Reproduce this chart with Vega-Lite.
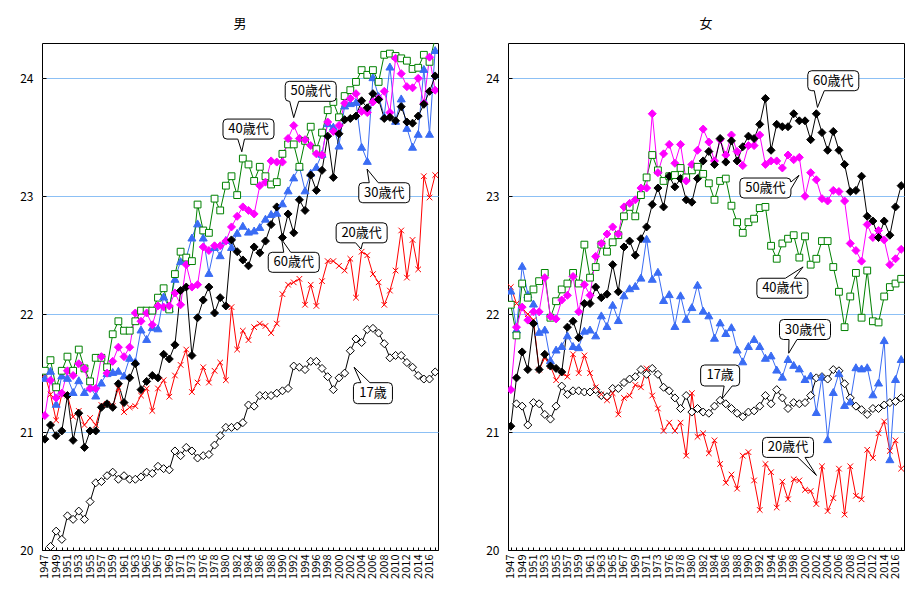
{
  "$schema": "https://vega.github.io/schema/vega-lite/v6.json",
  "padding": {"left": 5, "right": 5, "top": 17, "bottom": 5},
  "spacing": 30,
  "datasets": {
    "bmi": [
      {"sex":"男","year":1947,"a17":null,"a20":21.49,"a30":21.46,"a40":21.52,"a50":21.14,"a60":20.94},
      {"sex":"男","year":1948,"a17":20.03,"a20":21.32,"a30":21.52,"a40":21.61,"a50":21.44,"a60":21.06},
      {"sex":"男","year":1949,"a17":20.16,"a20":21.10,"a30":21.24,"a40":21.38,"a50":21.29,"a60":20.97},
      {"sex":"男","year":1950,"a17":20.09,"a20":21.32,"a30":21.48,"a40":21.52,"a50":21.33,"a60":21.01},
      {"sex":"男","year":1951,"a17":20.29,"a20":21.31,"a30":21.46,"a40":21.64,"a50":21.52,"a60":21.31},
      {"sex":"男","year":1952,"a17":20.26,"a20":21.13,"a30":21.34,"a40":21.52,"a50":21.48,"a60":20.93},
      {"sex":"男","year":1953,"a17":20.33,"a20":21.18,"a30":21.44,"a40":21.70,"a50":21.58,"a60":21.16},
      {"sex":"男","year":1954,"a17":20.26,"a20":21.06,"a30":21.34,"a40":21.54,"a50":21.54,"a60":20.87},
      {"sex":"男","year":1955,"a17":20.41,"a20":21.12,"a30":21.38,"a40":21.43,"a50":21.37,"a60":21.01},
      {"sex":"男","year":1956,"a17":20.57,"a20":21.06,"a30":21.31,"a40":21.63,"a50":21.37,"a60":21.01},
      {"sex":"男","year":1957,"a17":20.58,"a20":21.23,"a30":21.42,"a40":21.63,"a50":21.64,"a60":21.21},
      {"sex":"男","year":1958,"a17":20.63,"a20":21.24,"a30":21.50,"a40":21.55,"a50":21.50,"a60":21.24},
      {"sex":"男","year":1959,"a17":20.66,"a20":21.22,"a30":21.51,"a40":21.83,"a50":21.60,"a60":21.21},
      {"sex":"男","year":1960,"a17":20.60,"a20":21.37,"a30":21.52,"a40":21.94,"a50":21.72,"a60":21.41},
      {"sex":"男","year":1961,"a17":20.63,"a20":21.17,"a30":21.48,"a40":21.86,"a50":21.64,"a60":21.25},
      {"sex":"男","year":1962,"a17":20.60,"a20":21.21,"a30":21.63,"a40":21.86,"a50":21.72,"a60":21.46},
      {"sex":"男","year":1963,"a17":20.60,"a20":21.22,"a30":21.60,"a40":21.94,"a50":22.01,"a60":21.58},
      {"sex":"男","year":1964,"a17":20.62,"a20":21.31,"a30":21.87,"a40":22.03,"a50":21.94,"a60":21.36},
      {"sex":"男","year":1965,"a17":20.66,"a20":21.37,"a30":21.79,"a40":22.03,"a50":22.01,"a60":21.43},
      {"sex":"男","year":1966,"a17":20.65,"a20":21.18,"a30":21.89,"a40":22.03,"a50":21.91,"a60":21.48},
      {"sex":"男","year":1967,"a17":20.71,"a20":21.37,"a30":21.88,"a40":22.14,"a50":22.07,"a60":21.46},
      {"sex":"男","year":1968,"a17":20.69,"a20":21.44,"a30":22.15,"a40":22.22,"a50":22.06,"a60":21.66},
      {"sex":"男","year":1969,"a17":20.68,"a20":21.30,"a30":22.05,"a40":22.04,"a50":22.07,"a60":21.62},
      {"sex":"男","year":1970,"a17":20.84,"a20":21.48,"a30":22.30,"a40":22.34,"a50":22.18,"a60":21.74},
      {"sex":"男","year":1971,"a17":20.80,"a20":21.57,"a30":22.45,"a40":22.53,"a50":22.08,"a60":22.20},
      {"sex":"男","year":1972,"a17":20.87,"a20":21.70,"a30":22.48,"a40":22.48,"a50":22.42,"a60":22.23},
      {"sex":"男","year":1973,"a17":20.84,"a20":21.34,"a30":22.65,"a40":22.45,"a50":22.23,"a60":21.65},
      {"sex":"男","year":1974,"a17":20.78,"a20":21.42,"a30":22.77,"a40":22.93,"a50":22.25,"a60":21.97},
      {"sex":"男","year":1976,"a17":20.80,"a20":21.55,"a30":22.65,"a40":22.71,"a50":22.57,"a60":22.12},
      {"sex":"男","year":1977,"a17":20.81,"a20":21.42,"a30":22.35,"a40":22.69,"a50":22.54,"a60":22.23},
      {"sex":"男","year":1978,"a17":20.89,"a20":21.52,"a30":22.57,"a40":22.98,"a50":22.58,"a60":22.01},
      {"sex":"男","year":1979,"a17":20.97,"a20":21.59,"a30":22.50,"a40":22.88,"a50":22.58,"a60":22.14},
      {"sex":"男","year":1980,"a17":21.04,"a20":21.44,"a30":22.63,"a40":23.09,"a50":22.62,"a60":22.07},
      {"sex":"男","year":1981,"a17":21.04,"a20":22.06,"a30":22.57,"a40":23.17,"a50":22.74,"a60":22.63},
      {"sex":"男","year":1982,"a17":21.05,"a20":21.70,"a30":22.69,"a40":23.01,"a50":22.83,"a60":22.53},
      {"sex":"男","year":1983,"a17":21.08,"a20":21.86,"a30":22.75,"a40":23.32,"a50":22.91,"a60":22.46},
      {"sex":"男","year":1984,"a17":21.23,"a20":21.78,"a30":22.70,"a40":23.27,"a50":22.88,"a60":22.41},
      {"sex":"男","year":1985,"a17":21.22,"a20":21.89,"a30":22.71,"a40":23.13,"a50":22.85,"a60":22.57},
      {"sex":"男","year":1986,"a17":21.31,"a20":21.92,"a30":22.74,"a40":23.25,"a50":23.09,"a60":22.52},
      {"sex":"男","year":1987,"a17":21.31,"a20":21.90,"a30":22.81,"a40":23.17,"a50":23.12,"a60":22.62},
      {"sex":"男","year":1988,"a17":21.31,"a20":21.84,"a30":22.85,"a40":23.10,"a50":23.30,"a60":22.76},
      {"sex":"男","year":1989,"a17":21.33,"a20":21.92,"a30":22.86,"a40":23.12,"a50":23.29,"a60":22.91},
      {"sex":"男","year":1990,"a17":21.35,"a20":22.17,"a30":22.94,"a40":23.36,"a50":23.29,"a60":22.65},
      {"sex":"男","year":1991,"a17":21.37,"a20":22.25,"a30":23.05,"a40":23.44,"a50":23.49,"a60":22.85},
      {"sex":"男","year":1992,"a17":21.56,"a20":22.27,"a30":23.16,"a40":23.44,"a50":23.60,"a60":22.69},
      {"sex":"男","year":1993,"a17":21.55,"a20":22.30,"a30":23.25,"a40":23.25,"a50":23.49,"a60":22.97},
      {"sex":"男","year":1994,"a17":21.53,"a20":22.08,"a30":23.05,"a40":23.47,"a50":23.48,"a60":22.88},
      {"sex":"男","year":1995,"a17":21.60,"a20":22.25,"a30":23.20,"a40":23.59,"a50":23.43,"a60":23.18},
      {"sex":"男","year":1996,"a17":21.60,"a20":22.07,"a30":23.25,"a40":23.40,"a50":23.36,"a60":23.05},
      {"sex":"男","year":1997,"a17":21.54,"a20":22.28,"a30":23.36,"a40":23.54,"a50":23.35,"a60":23.22},
      {"sex":"男","year":1998,"a17":21.47,"a20":22.45,"a30":23.62,"a40":23.73,"a50":23.63,"a60":23.51},
      {"sex":"男","year":1999,"a17":21.36,"a20":22.45,"a30":23.59,"a40":23.80,"a50":23.55,"a60":23.16},
      {"sex":"男","year":2000,"a17":21.46,"a20":22.41,"a30":23.43,"a40":23.67,"a50":23.60,"a60":23.53},
      {"sex":"男","year":2001,"a17":21.50,"a20":22.37,"a30":23.77,"a40":23.85,"a50":23.79,"a60":23.65},
      {"sex":"男","year":2002,"a17":21.69,"a20":22.47,"a30":23.79,"a40":23.90,"a50":23.83,"a60":23.66},
      {"sex":"男","year":2003,"a17":21.79,"a20":22.14,"a30":23.80,"a40":23.97,"a50":23.87,"a60":23.68},
      {"sex":"男","year":2004,"a17":21.76,"a20":22.53,"a30":23.42,"a40":24.07,"a50":23.72,"a60":23.81},
      {"sex":"男","year":2005,"a17":21.87,"a20":22.50,"a30":23.30,"a40":24.03,"a50":23.71,"a60":23.75},
      {"sex":"男","year":2006,"a17":21.88,"a20":22.34,"a30":24.01,"a40":24.07,"a50":23.80,"a60":23.87},
      {"sex":"男","year":2007,"a17":21.84,"a20":22.27,"a30":23.85,"a40":23.97,"a50":23.83,"a60":23.82},
      {"sex":"男","year":2008,"a17":21.75,"a20":22.08,"a30":23.68,"a40":24.20,"a50":23.89,"a60":23.66},
      {"sex":"男","year":2009,"a17":21.63,"a20":22.20,"a30":24.10,"a40":24.21,"a50":23.71,"a60":23.67},
      {"sex":"男","year":2010,"a17":21.65,"a20":22.37,"a30":23.64,"a40":24.19,"a50":24.17,"a60":23.64},
      {"sex":"男","year":2011,"a17":21.65,"a20":22.71,"a30":23.83,"a40":24.17,"a50":24.04,"a60":23.76},
      {"sex":"男","year":2012,"a17":21.59,"a20":22.31,"a30":23.58,"a40":24.15,"a50":23.93,"a60":23.63},
      {"sex":"男","year":2013,"a17":21.55,"a20":22.63,"a30":23.42,"a40":24.08,"a50":23.92,"a60":23.62},
      {"sex":"男","year":2014,"a17":21.48,"a20":22.38,"a30":23.53,"a40":24.09,"a50":24.00,"a60":23.68},
      {"sex":"男","year":2015,"a17":21.45,"a20":23.17,"a30":24.08,"a40":24.20,"a50":23.79,"a60":23.78},
      {"sex":"男","year":2016,"a17":21.45,"a20":22.99,"a30":23.53,"a40":24.14,"a50":24.18,"a60":23.89},
      {"sex":"男","year":2017,"a17":21.51,"a20":23.18,"a30":24.24,"a40":24.34,"a50":23.90,"a60":24.02},
      {"sex":"女","year":1947,"a17":null,"a20":22.23,"a30":22.20,"a40":22.08,"a50":21.36,"a60":21.05},
      {"sex":"女","year":1948,"a17":21.24,"a20":22.09,"a30":21.87,"a40":21.82,"a50":21.89,"a60":21.46},
      {"sex":"女","year":1949,"a17":21.22,"a20":22.05,"a30":22.41,"a40":22.26,"a50":22.06,"a60":21.68},
      {"sex":"女","year":1950,"a17":21.06,"a20":22.00,"a30":22.17,"a40":22.14,"a50":21.95,"a60":21.53},
      {"sex":"女","year":1951,"a17":21.25,"a20":21.95,"a30":22.09,"a40":22.21,"a50":22.02,"a60":21.92},
      {"sex":"女","year":1952,"a17":21.24,"a20":21.53,"a30":21.85,"a40":22.28,"a50":22.02,"a60":21.53},
      {"sex":"女","year":1953,"a17":21.15,"a20":21.63,"a30":21.87,"a40":22.35,"a50":22.31,"a60":21.66},
      {"sex":"女","year":1954,"a17":21.11,"a20":21.56,"a30":21.61,"a40":21.97,"a50":21.98,"a60":21.56},
      {"sex":"女","year":1955,"a17":21.22,"a20":21.44,"a30":21.70,"a40":22.11,"a50":21.96,"a60":21.54},
      {"sex":"女","year":1956,"a17":21.39,"a20":21.50,"a30":21.73,"a40":22.21,"a50":22.12,"a60":21.51},
      {"sex":"女","year":1957,"a17":21.32,"a20":21.47,"a30":21.82,"a40":22.26,"a50":22.16,"a60":21.89},
      {"sex":"女","year":1958,"a17":21.35,"a20":21.66,"a30":21.73,"a40":22.35,"a50":22.32,"a60":21.94},
      {"sex":"女","year":1959,"a17":21.35,"a20":21.50,"a30":21.72,"a40":22.26,"a50":22.02,"a60":21.80},
      {"sex":"女","year":1960,"a17":21.34,"a20":21.65,"a30":21.86,"a40":22.59,"a50":22.25,"a60":22.09},
      {"sex":"女","year":1961,"a17":21.34,"a20":21.50,"a30":21.87,"a40":22.31,"a50":22.16,"a60":22.09},
      {"sex":"女","year":1962,"a17":21.36,"a20":21.38,"a30":21.82,"a40":22.40,"a50":22.49,"a60":22.23},
      {"sex":"女","year":1963,"a17":21.31,"a20":21.32,"a30":21.99,"a40":22.59,"a50":22.60,"a60":22.14},
      {"sex":"女","year":1964,"a17":21.30,"a20":21.27,"a30":21.90,"a40":22.53,"a50":22.68,"a60":22.17},
      {"sex":"女","year":1965,"a17":21.37,"a20":21.33,"a30":22.08,"a40":22.61,"a50":22.74,"a60":22.42},
      {"sex":"女","year":1966,"a17":21.37,"a20":21.15,"a30":21.95,"a40":22.67,"a50":22.68,"a60":22.19},
      {"sex":"女","year":1967,"a17":21.42,"a20":21.29,"a30":22.16,"a40":22.83,"a50":22.91,"a60":22.57},
      {"sex":"女","year":1968,"a17":21.45,"a20":21.31,"a30":22.22,"a40":22.91,"a50":22.94,"a60":22.62},
      {"sex":"女","year":1969,"a17":21.47,"a20":21.40,"a30":22.24,"a40":22.83,"a50":22.97,"a60":22.50},
      {"sex":"女","year":1970,"a17":21.53,"a20":21.38,"a30":22.31,"a40":23.01,"a50":23.07,"a60":22.64},
      {"sex":"女","year":1971,"a17":21.49,"a20":21.54,"a30":22.64,"a40":23.16,"a50":23.07,"a60":22.74},
      {"sex":"女","year":1972,"a17":21.54,"a20":21.31,"a30":22.30,"a40":23.35,"a50":23.70,"a60":22.93},
      {"sex":"女","year":1973,"a17":21.49,"a20":21.20,"a30":22.36,"a40":23.22,"a50":23.20,"a60":23.07},
      {"sex":"女","year":1974,"a17":21.38,"a20":21.01,"a30":22.12,"a40":23.13,"a50":23.36,"a60":22.91},
      {"sex":"女","year":1976,"a17":21.35,"a20":21.08,"a30":22.17,"a40":23.17,"a50":23.44,"a60":23.17},
      {"sex":"女","year":1977,"a17":21.29,"a20":21.01,"a30":21.90,"a40":23.18,"a50":23.28,"a60":23.08},
      {"sex":"女","year":1978,"a17":21.20,"a20":21.08,"a30":22.16,"a40":23.24,"a50":23.44,"a60":23.15},
      {"sex":"女","year":1979,"a17":21.31,"a20":20.80,"a30":21.96,"a40":23.16,"a50":23.13,"a60":22.97},
      {"sex":"女","year":1980,"a17":21.17,"a20":21.33,"a30":22.06,"a40":23.22,"a50":23.27,"a60":22.95},
      {"sex":"女","year":1981,"a17":21.20,"a20":20.96,"a30":22.25,"a40":23.25,"a50":23.39,"a60":23.15},
      {"sex":"女","year":1982,"a17":21.17,"a20":20.99,"a30":22.03,"a40":23.19,"a50":23.57,"a60":23.30},
      {"sex":"女","year":1983,"a17":21.16,"a20":20.82,"a30":21.99,"a40":23.11,"a50":23.46,"a60":23.38},
      {"sex":"女","year":1984,"a17":21.22,"a20":20.93,"a30":21.80,"a40":22.97,"a50":23.30,"a60":23.27},
      {"sex":"女","year":1985,"a17":21.27,"a20":20.73,"a30":21.93,"a40":23.13,"a50":23.48,"a60":23.49},
      {"sex":"女","year":1986,"a17":21.24,"a20":20.57,"a30":21.84,"a40":23.15,"a50":23.35,"a60":23.29},
      {"sex":"女","year":1987,"a17":21.20,"a20":20.64,"a30":21.89,"a40":22.92,"a50":23.52,"a60":23.47},
      {"sex":"女","year":1988,"a17":21.16,"a20":20.52,"a30":21.70,"a40":22.78,"a50":23.38,"a60":23.30},
      {"sex":"女","year":1989,"a17":21.13,"a20":20.80,"a30":21.60,"a40":22.69,"a50":23.26,"a60":23.42},
      {"sex":"女","year":1990,"a17":21.17,"a20":20.83,"a30":21.73,"a40":22.78,"a50":23.43,"a60":23.51},
      {"sex":"女","year":1991,"a17":21.18,"a20":20.59,"a30":21.79,"a40":22.81,"a50":23.43,"a60":23.49},
      {"sex":"女","year":1992,"a17":21.22,"a20":20.34,"a30":21.73,"a40":22.90,"a50":23.52,"a60":23.61},
      {"sex":"女","year":1993,"a17":21.31,"a20":20.73,"a30":21.63,"a40":22.91,"a50":23.27,"a60":23.83},
      {"sex":"女","year":1994,"a17":21.24,"a20":20.66,"a30":21.65,"a40":22.58,"a50":23.30,"a60":23.39},
      {"sex":"女","year":1995,"a17":21.36,"a20":20.36,"a30":21.53,"a40":22.47,"a50":23.30,"a60":23.61},
      {"sex":"女","year":1996,"a17":21.29,"a20":20.58,"a30":21.47,"a40":22.60,"a50":23.24,"a60":23.59},
      {"sex":"女","year":1997,"a17":21.20,"a20":20.43,"a30":21.62,"a40":22.64,"a50":23.35,"a60":23.59},
      {"sex":"女","year":1998,"a17":21.25,"a20":20.60,"a30":21.57,"a40":22.67,"a50":23.31,"a60":23.70},
      {"sex":"女","year":1999,"a17":21.24,"a20":20.59,"a30":21.54,"a40":22.48,"a50":23.33,"a60":23.64},
      {"sex":"女","year":2000,"a17":21.25,"a20":20.51,"a30":21.45,"a40":22.66,"a50":23.00,"a60":23.64},
      {"sex":"女","year":2001,"a17":21.31,"a20":20.50,"a30":21.48,"a40":22.42,"a50":23.20,"a60":23.48},
      {"sex":"女","year":2002,"a17":21.46,"a20":20.39,"a30":21.17,"a40":22.47,"a50":23.14,"a60":23.70},
      {"sex":"女","year":2003,"a17":21.47,"a20":20.71,"a30":21.47,"a40":22.62,"a50":22.98,"a60":23.54},
      {"sex":"女","year":2004,"a17":21.45,"a20":20.33,"a30":20.94,"a40":22.62,"a50":22.96,"a60":23.39},
      {"sex":"女","year":2005,"a17":21.53,"a20":20.44,"a30":21.34,"a40":22.40,"a50":23.05,"a60":23.55},
      {"sex":"女","year":2006,"a17":21.52,"a20":20.69,"a30":21.50,"a40":22.19,"a50":23.04,"a60":23.39},
      {"sex":"女","year":2007,"a17":21.41,"a20":20.30,"a30":21.23,"a40":21.89,"a50":22.96,"a60":23.27},
      {"sex":"女","year":2008,"a17":21.29,"a20":20.71,"a30":21.26,"a40":22.15,"a50":22.60,"a60":23.04},
      {"sex":"女","year":2009,"a17":21.22,"a20":20.46,"a30":21.55,"a40":22.35,"a50":22.54,"a60":23.05},
      {"sex":"女","year":2010,"a17":21.19,"a20":20.43,"a30":21.54,"a40":21.97,"a50":22.45,"a60":23.17},
      {"sex":"女","year":2011,"a17":21.15,"a20":20.85,"a30":21.55,"a40":22.37,"a50":22.76,"a60":22.83},
      {"sex":"女","year":2012,"a17":21.20,"a20":20.78,"a30":21.32,"a40":21.94,"a50":22.65,"a60":22.79},
      {"sex":"女","year":2013,"a17":21.20,"a20":20.99,"a30":21.42,"a40":21.93,"a50":22.71,"a60":22.65},
      {"sex":"女","year":2014,"a17":21.23,"a20":21.09,"a30":21.78,"a40":22.15,"a50":22.63,"a60":22.79},
      {"sex":"女","year":2015,"a17":21.25,"a20":20.84,"a30":20.77,"a40":22.23,"a50":22.42,"a60":22.67},
      {"sex":"女","year":2016,"a17":21.26,"a20":20.93,"a30":21.45,"a40":22.26,"a50":22.47,"a60":22.91},
      {"sex":"女","year":2017,"a17":21.29,"a20":20.69,"a30":21.62,"a40":22.30,"a50":22.55,"a60":23.09}
    ],
    "notes": [
      {"sex":"男","id":"m40","text":"40歳代","year":1984,"bmi":23.57},
      {"sex":"男","id":"m50","text":"50歳代","year":1995,"bmi":23.89},
      {"sex":"男","id":"m30","text":"30歳代","year":2008,"bmi":23.03},
      {"sex":"男","id":"m20","text":"20歳代","year":2004,"bmi":22.69},
      {"sex":"男","id":"m60","text":"60歳代","year":1992,"bmi":22.44},
      {"sex":"男","id":"m17","text":"17歳","year":2006,"bmi":21.33},
      {"sex":"女","id":"f60","text":"60歳代","year":2005,"bmi":23.98},
      {"sex":"女","id":"f50","text":"50歳代","year":1993,"bmi":23.07},
      {"sex":"女","id":"f40","text":"40歳代","year":1996,"bmi":22.22},
      {"sex":"女","id":"f30","text":"30歳代","year":2000,"bmi":21.87},
      {"sex":"女","id":"f17","text":"17歳","year":1985,"bmi":21.48},
      {"sex":"女","id":"f20","text":"20歳代","year":1997,"bmi":20.87}
    ]
  },
  "hconcat": [
    {
      "title": "男",
      "width": 396,
      "height": 507,
      "layer": [
        {
          "data": {"name": "bmi"},
          "transform": [
            {"filter": "datum.sex === '男'"},
            {"fold": ["a17", "a20", "a30", "a40", "a50", "a60"], "as": ["age", "bmi"]},
            {"filter": "isValid(datum.bmi)"}
          ],
          "encoding": {
            "x": {"field": "year", "type": "ordinal", "title": null,
              "scale": {"type": "point", "padding": 0.5, "domain": [1947,1948,1949,1950,1951,1952,1953,1954,1955,1956,1957,1958,1959,1960,1961,1962,1963,1964,1965,1966,1967,1968,1969,1970,1971,1972,1973,1974,1976,1977,1978,1979,1980,1981,1982,1983,1984,1985,1986,1987,1988,1989,1990,1991,1992,1993,1994,1995,1996,1997,1998,1999,2000,2001,2002,2003,2004,2005,2006,2007,2008,2009,2010,2011,2012,2013,2014,2015,2016,2017]},
              "axis": {"labelExpr": "(datum.value <= 1974 ? (datum.value - 1947) % 2 == 0 : (datum.value - 1976) % 2 == 0) ? datum.label : ''"}},
            "y": {"field": "bmi", "type": "quantitative", "title": null,
              "scale": {"domain": [20, 24.3], "nice": false, "zero": false},
              "axis": {"values": [20, 21, 22, 23, 24], "format": "d", "gridColor": {"condition": {"test": "datum.value === 20", "value": "#000000"}, "value": "#8cc0f5"}}}
          },
          "layer": [
            {
              "mark": {"type": "line", "strokeWidth": 1, "clip": true},
              "encoding": {
                "stroke": {"field": "age", "type": "nominal", "legend": null,
                  "scale": {"domain": ["a17", "a20", "a30", "a40", "a50", "a60"], "range": ["#000000", "#ff0000", "#3a6cf4", "#008000", "#ff00ff", "#000000"]}}
              }
            },
            {
              "mark": {"type": "point", "size": 64, "strokeWidth": 1, "opacity": 1, "clip": true},
              "encoding": {
                "shape": {"field": "age", "type": "nominal", "legend": null,
                  "scale": {"domain": ["a17", "a20", "a30", "a40", "a50", "a60"], "range": ["diamond", "M-0.7,-0.7L0.7,0.7M0.7,-0.7L-0.7,0.7", "triangle-up", "M-0.85,-0.85L0.85,-0.85L0.85,0.85L-0.85,0.85Z", "diamond", "diamond"]}},
                "fill": {"field": "age", "type": "nominal", "legend": null,
                  "scale": {"domain": ["a17", "a20", "a30", "a40", "a50", "a60"], "range": ["#ffffff", "#ff0000", "#3a6cf4", "#ffffff", "#ff00ff", "#000000"]}},
                "stroke": {"field": "age", "type": "nominal", "legend": null,
                  "scale": {"domain": ["a17", "a20", "a30", "a40", "a50", "a60"], "range": ["#000000", "#ff0000", "#3a6cf4", "#008000", "#ff00ff", "#000000"]}}
              }
            }
          ]
        },
        {
          "data": {"name": "notes"},
          "transform": [{"filter": "datum.sex === '男'"}],
          "encoding": {
            "x": {"field": "year", "type": "ordinal"},
            "y": {"field": "bmi", "type": "quantitative"}
          },
          "layer": [
            {
              "mark": {"type": "point", "size": 4, "filled": true, "fill": "#ffffff", "stroke": "#000000", "strokeWidth": 1, "opacity": 1},
              "encoding": {
                "shape": {"field": "id", "type": "nominal", "legend": null,
                  "scale": {"domain": ["m40", "m50", "m30", "m20", "m60", "m17"], "range": [
                    "M-21.5,-10L21.5,-10Q25.5,-10 25.5,-6L25.5,6Q25.5,10 21.5,10L-4,10L-6.7,22.7L-10.7,10L-21.5,10Q-25.5,10 -25.5,6L-25.5,-6Q-25.5,-10 -21.5,-10Z",
                    "M-21.5,-10L21.5,-10Q25.5,-10 25.5,-6L25.5,6Q25.5,10 21.5,10L-12,10L-17,26.3L-21,10L-21.5,10Q-25.5,10 -25.5,6L-25.5,-6Q-25.5,-10 -21.5,-10Z",
                    "M-21.5,-10L-15,-10L-17.2,-23.7L-6,-10L21.5,-10Q25.5,-10 25.5,-6L25.5,6Q25.5,10 21.5,10L-21.5,10Q-25.5,10 -25.5,6L-25.5,-6Q-25.5,-10 -21.5,-10Z",
                    "M-21.5,-10L21.5,-10Q25.5,-10 25.5,-6L25.5,6Q25.5,10 21.5,10L1,10L-0.6,16.3L-6,10L-21.5,10Q-25.5,10 -25.5,6L-25.5,-6Q-25.5,-10 -21.5,-10Z",
                    "M-21.5,-10L-10,-10L-12,-22.7L-3,-10L21.5,-10Q25.5,-10 25.5,-6L25.5,6Q25.5,10 21.5,10L-21.5,10Q-25.5,10 -25.5,6L-25.5,-6Q-25.5,-10 -21.5,-10Z",
                    "M-15.5,-10.5L-12,-10.5L-18.9,-26L-3,-10.5L15.5,-10.5Q19.5,-10.5 19.5,-6.5L19.5,6.5Q19.5,10.5 15.5,10.5L-15.5,10.5Q-19.5,10.5 -19.5,6.5L-19.5,-6.5Q-19.5,-10.5 -15.5,-10.5Z"
                  ]}}
              }
            },
            {
              "mark": {"type": "text", "font": "Noto Sans CJK JP", "fontSize": 13, "color": "#000000", "align": "center", "baseline": "middle"},
              "encoding": {"text": {"field": "text"}}
            }
          ]
        }
      ],
      "resolve": {"scale": {"shape": "independent"}}
    },
    {
      "title": "女",
      "width": 396,
      "height": 507,
      "layer": [
        {
          "data": {"name": "bmi"},
          "transform": [
            {"filter": "datum.sex === '女'"},
            {"fold": ["a17", "a20", "a30", "a40", "a50", "a60"], "as": ["age", "bmi"]},
            {"filter": "isValid(datum.bmi)"}
          ],
          "encoding": {
            "x": {"field": "year", "type": "ordinal", "title": null,
              "scale": {"type": "point", "padding": 0.5, "domain": [1947,1948,1949,1950,1951,1952,1953,1954,1955,1956,1957,1958,1959,1960,1961,1962,1963,1964,1965,1966,1967,1968,1969,1970,1971,1972,1973,1974,1976,1977,1978,1979,1980,1981,1982,1983,1984,1985,1986,1987,1988,1989,1990,1991,1992,1993,1994,1995,1996,1997,1998,1999,2000,2001,2002,2003,2004,2005,2006,2007,2008,2009,2010,2011,2012,2013,2014,2015,2016,2017]},
              "axis": {"labelExpr": "(datum.value <= 1974 ? (datum.value - 1947) % 2 == 0 : (datum.value - 1976) % 2 == 0) ? datum.label : ''"}},
            "y": {"field": "bmi", "type": "quantitative", "title": null,
              "scale": {"domain": [20, 24.3], "nice": false, "zero": false},
              "axis": {"values": [20, 21, 22, 23, 24], "format": "d", "gridColor": {"condition": {"test": "datum.value === 20", "value": "#000000"}, "value": "#8cc0f5"}}}
          },
          "layer": [
            {
              "mark": {"type": "line", "strokeWidth": 1, "clip": true},
              "encoding": {
                "stroke": {"field": "age", "type": "nominal", "legend": null,
                  "scale": {"domain": ["a17", "a20", "a30", "a40", "a50", "a60"], "range": ["#000000", "#ff0000", "#3a6cf4", "#008000", "#ff00ff", "#000000"]}}
              }
            },
            {
              "mark": {"type": "point", "size": 64, "strokeWidth": 1, "opacity": 1, "clip": true},
              "encoding": {
                "shape": {"field": "age", "type": "nominal", "legend": null,
                  "scale": {"domain": ["a17", "a20", "a30", "a40", "a50", "a60"], "range": ["diamond", "M-0.7,-0.7L0.7,0.7M0.7,-0.7L-0.7,0.7", "triangle-up", "M-0.85,-0.85L0.85,-0.85L0.85,0.85L-0.85,0.85Z", "diamond", "diamond"]}},
                "fill": {"field": "age", "type": "nominal", "legend": null,
                  "scale": {"domain": ["a17", "a20", "a30", "a40", "a50", "a60"], "range": ["#ffffff", "#ff0000", "#3a6cf4", "#ffffff", "#ff00ff", "#000000"]}},
                "stroke": {"field": "age", "type": "nominal", "legend": null,
                  "scale": {"domain": ["a17", "a20", "a30", "a40", "a50", "a60"], "range": ["#000000", "#ff0000", "#3a6cf4", "#008000", "#ff00ff", "#000000"]}}
              }
            }
          ]
        },
        {
          "data": {"name": "notes"},
          "transform": [{"filter": "datum.sex === '女'"}],
          "encoding": {
            "x": {"field": "year", "type": "ordinal"},
            "y": {"field": "bmi", "type": "quantitative"}
          },
          "layer": [
            {
              "mark": {"type": "point", "size": 4, "filled": true, "fill": "#ffffff", "stroke": "#000000", "strokeWidth": 1, "opacity": 1},
              "encoding": {
                "shape": {"field": "id", "type": "nominal", "legend": null,
                  "scale": {"domain": ["f60", "f50", "f40", "f30", "f17", "f20"], "range": [
                    "M-21.5,-10L21.5,-10Q25.5,-10 25.5,-6L25.5,6Q25.5,10 21.5,10L-9,10L-15.8,26.7L-19,10L-21.5,10Q-25.5,10 -25.5,6L-25.5,-6Q-25.5,-10 -21.5,-10Z",
                    "M-21.5,-10L21.5,-10Q25.5,-10 25.5,-6L33.6,-12.7L25.5,1L25.5,6Q25.5,10 21.5,10L-21.5,10Q-25.5,10 -25.5,6L-25.5,-6Q-25.5,-10 -21.5,-10Z",
                    "M-21.5,-10L3,-10L20.7,-21.3L12,-10L21.5,-10Q25.5,-10 25.5,-6L25.5,6Q25.5,10 21.5,10L-21.5,10Q-25.5,10 -25.5,6L-25.5,-6Q-25.5,-10 -21.5,-10Z",
                    "M-21.5,-10L21.5,-10Q25.5,-10 25.5,-6L25.5,6Q25.5,10 21.5,10L-8,10L-16.3,23.7L-16,10L-21.5,10Q-25.5,10 -25.5,6L-25.5,-6Q-25.5,-10 -21.5,-10Z",
                    "M-15.5,-10.5L15.5,-10.5Q19.5,-10.5 19.5,-6.5L19.5,6.5Q19.5,10.5 15.5,10.5L12,10.5L1.9,23.3L4,10.5L-15.5,10.5Q-19.5,10.5 -19.5,6.5L-19.5,-6.5Q-19.5,-10.5 -15.5,-10.5Z",
                    "M-21.5,-10L21.5,-10Q25.5,-10 25.5,-6L25.5,6Q25.5,10 21.5,10L17,10L28.4,28L10,10L-21.5,10Q-25.5,10 -25.5,6L-25.5,-6Q-25.5,-10 -21.5,-10Z"
                  ]}}
              }
            },
            {
              "mark": {"type": "text", "font": "Noto Sans CJK JP", "fontSize": 13, "color": "#000000", "align": "center", "baseline": "middle"},
              "encoding": {"text": {"field": "text"}}
            }
          ]
        }
      ],
      "resolve": {"scale": {"shape": "independent"}}
    }
  ],
  "config": {
    "view": {"stroke": "#000000", "strokeWidth": 1},
    "title": {"font": "Noto Sans CJK JP", "fontSize": 13, "fontWeight": "normal", "color": "#000000", "offset": 12, "anchor": "middle"},
    "axis": {
      "labelFont": "Noto Sans CJK JP",
      "labelColor": "#000000",
      "tickColor": "#000000",
      "domain": false,
      "labelOverlap": false
    },
    "axisX": {
      "labelAngle": -90,
      "labelFontSize": 11,
      "tickSize": -3,
      "labelPadding": 7,
      "grid": false
    },
    "axisY": {
      "labelFontSize": 12,
      "tickSize": -4,
      "labelPadding": 13,
      "grid": true,
      "gridColor": "#8cc0f5",
      "gridWidth": 1,
      "gridOpacity": 1,
      "minExtent": 36,
      "maxExtent": 36
    }
  }
}
